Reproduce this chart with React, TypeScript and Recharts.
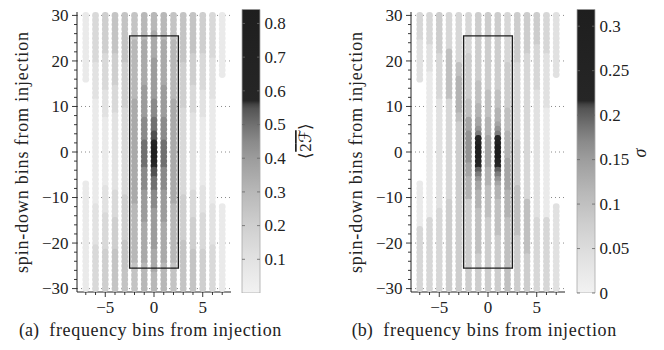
import React from "react";
import { ScatterChart, Scatter, BarChart, Bar, XAxis, YAxis, CartesianGrid, ReferenceArea } from "recharts";

const FONT = "Liberation Serif";
const INK = "#222";

// bins: frequency columns left to right, spin-down rows top (+30) to bottom (-30)
const FREQ_BINS = [-7, -6, -5, -4, -3, -2, -1, 0, 1, 2, 3, 4, 5, 6, 7];
const SPIN_BINS = [
  30, 29, 28, 27, 26, 25, 24, 23, 22, 21, 20, 19, 18, 17, 16, 15, 14, 13, 12, 11, 10,
  9, 8, 7, 6, 5, 4, 3, 2, 1, 0, -1, -2, -3, -4, -5, -6, -7, -8, -9, -10,
  -11, -12, -13, -14, -15, -16, -17, -18, -19, -20, -21, -22, -23, -24, -25, -26, -27, -28, -29, -30,
];
const FREQ_GRID = [-5, 0, 5];
const SPIN_TICKS = [
  -30, -28, -26, -24, -22, -20, -18, -16, -14, -12, -10, -8, -6, -4, -2, 0,
  2, 4, 6, 8, 10, 12, 14, 16, 18, 20, 22, 24, 26, 28, 30,
];
const SPIN_GRID = [-30, -20, -10, 0, 10, 20, 30];

const MEAN_2F_TICKS = [0.1, 0.2, 0.3, 0.4, 0.5, 0.6, 0.7, 0.8];
const SIGMA_TICKS = [0, 0.05, 0.1, 0.15, 0.2, 0.25, 0.3];
const MEAN_2F_MAX = 0.842;
const SIGMA_MAX = 0.319;

// each column: runs of [value, number of spin-down bins] from +30 downwards, null = empty cell
type Run = [number | null, number];

const MEAN_2F_RUNS: Run[][] = [
  [[0.05, 15], [null, 22], [0.05, 24]],
  [[0.15, 11], [0.1, 8], [0.05, 23], [0.1, 9], [0.15, 10]],
  [[0.2, 9], [0.15, 8], [0.1, 6], [0.05, 15], [0.1, 6], [0.15, 8], [0.2, 9]],
  [[0.25, 9], [0.2, 7], [0.15, 6], [0.1, 17], [0.15, 6], [0.2, 7], [0.25, 9]],
  [[0.25, 11], [0.2, 10], [0.15, 19], [0.2, 10], [0.25, 11]],
  [[0.25, 6], [0.3, 13], [0.35, 23], [0.3, 13], [0.25, 6]],
  [[0.3, 6], [0.35, 10], [0.4, 7], [0.45, 5], [0.5, 6], [0.45, 5], [0.4, 7], [0.35, 9], [0.3, 6]],
  [[0.3, 4], [0.35, 6], [0.4, 9], [0.45, 4], [0.5, 3], [0.55, 2], [0.6, 1], [0.7, 1], [0.8, 1],
   [0.8, 1], [0.7, 1], [0.6, 1], [0.55, 2], [0.5, 3], [0.45, 4], [0.4, 9], [0.35, 5], [0.3, 4]],
  [[0.3, 6], [0.35, 10], [0.4, 7], [0.45, 5], [0.5, 6], [0.45, 5], [0.4, 7], [0.35, 9], [0.3, 6]],
  [[0.25, 6], [0.3, 13], [0.35, 23], [0.3, 13], [0.25, 6]],
  [[0.25, 11], [0.2, 10], [0.15, 19], [0.2, 10], [0.25, 11]],
  [[0.25, 9], [0.2, 7], [0.15, 6], [0.1, 17], [0.15, 6], [0.2, 7], [0.25, 9]],
  [[0.2, 9], [0.15, 8], [0.1, 6], [0.05, 15], [0.1, 6], [0.15, 8], [0.2, 9]],
  [[0.15, 10], [0.1, 9], [0.05, 23], [0.1, 9], [0.15, 10]],
  [[0.05, 14], [null, 28], [0.05, 19]],
];

const SIGMA_RUNS: Run[][] = [
  [[0.06, 6], [0.04, 9], [null, 22], [0.02, 10], [0.06, 14]],
  [[0.06, 7], [0.04, 6], [0.02, 32], [0.06, 16]],
  [[0.08, 9], [0.06, 10], [0.04, 24], [0.06, 18]],
  [[0.06, 8], [0.1, 11], [0.06, 22], [0.08, 20]],
  [[0.06, 11], [0.1, 3], [0.12, 8], [0.1, 2], [0.08, 37]],
  [[0.06, 9], [0.08, 10], [0.1, 4], [0.14, 3], [0.16, 7], [0.14, 3], [0.12, 5], [0.08, 20]],
  [[0.08, 15], [0.1, 5], [0.12, 3], [0.14, 2], [0.16, 1], [0.18, 1], [0.22, 1], [0.26, 1], [0.3, 3],
   [0.26, 1], [0.22, 1], [0.2, 1], [0.18, 1], [0.16, 1], [0.14, 2], [0.12, 4], [0.1, 10], [0.08, 8]],
  [[0.08, 17], [0.1, 6], [0.12, 4], [0.14, 7], [0.12, 4], [0.1, 7], [0.08, 16]],
  [[0.08, 17], [0.1, 4], [0.12, 3], [0.14, 1], [0.16, 1], [0.18, 1], [0.22, 1], [0.26, 1], [0.3, 3],
   [0.26, 1], [0.22, 1], [0.2, 1], [0.18, 1], [0.16, 1], [0.14, 1], [0.12, 3], [0.1, 8], [0.08, 12]],
  [[0.06, 11], [0.08, 10], [0.1, 5], [0.12, 6], [0.14, 7], [0.12, 6], [0.1, 16]],
  [[0.08, 11], [0.06, 17], [0.08, 10], [0.1, 11], [0.08, 12]],
  [[0.08, 9], [0.06, 32], [0.1, 12], [0.08, 8]],
  [[0.08, 7], [0.06, 10], [0.04, 28], [0.06, 16]],
  [[0.06, 9], [0.04, 12], [0.02, 24], [0.06, 16]],
  [[0.04, 14], [null, 28], [0.04, 19]],
];

// grey colour map: fraction of colour-bar range -> grey level
const GREY_STOPS: [number, number][] = [
  [0, 242], [0.119, 226], [0.238, 207], [0.356, 184], [0.475, 156], [0.535, 138],
  [0.594, 112], [0.65, 84], [0.665, 66], [0.678, 38], [1, 30],
];

const rgb = (g: number) => {
  const c = Math.round(g);
  return `rgb(${c},${c},${c})`;
};

function grey(t: number) {
  const f = Math.max(0, Math.min(1, t));
  for (let i = 1; i < GREY_STOPS.length; i++) {
    const [t1, g1] = GREY_STOPS[i];
    const [t0, g0] = GREY_STOPS[i - 1];
    if (f <= t1) return rgb(g0 + ((f - t0) / (t1 - t0)) * (g1 - g0));
  }
  return rgb(30);
}

function toCells(runs: Run[][]) {
  const cells: { f: number; s: number; v: number }[] = [];
  runs.forEach((col, i) => {
    let row = 0;
    col.forEach(([v, n]) => {
      for (let k = 0; k < n; k++, row++) {
        if (v !== null) cells.push({ f: FREQ_BINS[i], s: SPIN_BINS[row], v });
      }
    });
  });
  return cells;
}

const MEAN_2F_CELLS = toCells(MEAN_2F_RUNS);
const SIGMA_CELLS = toCells(SIGMA_RUNS);

const fmt = (v: number) => String(v).replace("-", "\u2212");
const textStyle = { fontFamily: FONT };

const FreqTick = ({ x, y, payload }: any) => {
  const major = payload.value % 5 === 0;
  return (
    <g>
      <line x1={x} x2={x} y1={y} y2={y + (major ? 5 : 3)} stroke={INK} strokeWidth={0.9} />
      {major && (
        <text x={x} y={y + 20.5} textAnchor="middle" style={textStyle} fontSize={17} fill={INK}>
          {fmt(payload.value)}
        </text>
      )}
    </g>
  );
};

const SpinTick = ({ x, y, payload }: any) => {
  const major = payload.value % 10 === 0;
  return (
    <g>
      <line x1={x} x2={x - (major ? 5 : 3)} y1={y} y2={y} stroke={INK} strokeWidth={0.9} />
      {major && (
        <text x={x - 8.5} y={y} dy="0.34em" textAnchor="end" style={textStyle} fontSize={17} fill={INK}>
          {fmt(payload.value)}
        </text>
      )}
    </g>
  );
};

const ColorTick = ({ x, y, payload }: any) => (
  <g>
    <line x1={x - 18} x2={x - 15} y1={y} y2={y} stroke="#666" strokeWidth={0.8} />
    <line x1={x - 3} x2={x} y1={y} y2={y} stroke="#666" strokeWidth={0.8} />
    <text x={x + 4.5} y={y} dy="0.34em" textAnchor="start" style={textStyle} fontSize={17} fill={INK}>
      {String(payload.value)}
    </text>
  </g>
);

function Heatmap({ cells, vmax, left }: { cells: any[]; vmax: number; left: number }) {
  return (
    <div style={{ position: "absolute", left, top: 0 }}>
      <ScatterChart width={332} height={350} margin={{ top: 12, right: 101, bottom: 18, left: 37 }}>
        <CartesianGrid
          stroke="#8a8a8a"
          strokeDasharray="1 3"
          verticalValues={FREQ_GRID}
          horizontalValues={SPIN_GRID}
        />
        <XAxis
          type="number"
          dataKey="f"
          domain={[-7.9, 7.9]}
          ticks={FREQ_BINS}
          interval={0}
          allowDataOverflow
          height={40}
          axisLine={{ stroke: INK }}
          tickLine={false}
          tickSize={0}
          tickMargin={0}
          tick={<FreqTick />}
        />
        <YAxis
          type="number"
          dataKey="s"
          domain={[-30.75, 30.75]}
          ticks={SPIN_TICKS}
          interval={0}
          allowDataOverflow
          width={40}
          axisLine={{ stroke: INK }}
          tickLine={false}
          tickSize={0}
          tickMargin={0}
          tick={<SpinTick />}
        />
        <Scatter
          data={cells}
          isAnimationActive={false}
          shape={(p: any) => (
            <circle cx={p.cx} cy={p.cy} r={3.4} fill={grey((p.payload?.v ?? p.v) / vmax)} />
          )}
        />
        <ReferenceArea
          x1={-2.5}
          x2={2.5}
          y1={-25.5}
          y2={25.5}
          fill="none"
          stroke="#1c1c1c"
          strokeWidth={1.4}
          ifOverflow="visible"
          zIndex={900}
        />
      </ScatterChart>
    </div>
  );
}

function ColorBar({ id, vmax, ticks, left }: { id: string; vmax: number; ticks: number[]; left: number }) {
  return (
    <div style={{ position: "absolute", left, top: 0 }}>
      <BarChart
        width={96}
        height={350}
        data={[{ k: "range", v: vmax }]}
        margin={{ top: 9.3, right: 2, bottom: 57, left: 6 }}
        barCategoryGap={0}
      >
        <defs>
          <linearGradient id={id} x1="0" y1="1" x2="0" y2="0">
            {GREY_STOPS.map(([t, g], i) => (
              <stop key={i} offset={t} stopColor={rgb(g)} />
            ))}
          </linearGradient>
        </defs>
        <XAxis dataKey="k" hide />
        <YAxis
          type="number"
          orientation="right"
          domain={[0, vmax]}
          ticks={ticks}
          interval={0}
          allowDataOverflow
          width={70}
          axisLine={false}
          tickLine={false}
          tickSize={0}
          tickMargin={0}
          tick={<ColorTick />}
        />
        <Bar dataKey="v" fill={`url(#${id})`} stroke="#a8a8a8" strokeWidth={0.8} isAnimationActive={false} />
      </BarChart>
    </div>
  );
}

export default function App() {
  return (
    <div style={{ position: "absolute", left: 0, top: 0, width: 664, height: 350, background: "#fff" }}>
      <Heatmap cells={MEAN_2F_CELLS} vmax={MEAN_2F_MAX} left={0} />
      <ColorBar id="cmapA" vmax={MEAN_2F_MAX} ticks={MEAN_2F_TICKS} left={236} />
      <Heatmap cells={SIGMA_CELLS} vmax={SIGMA_MAX} left={334} />
      <ColorBar id="cmapB" vmax={SIGMA_MAX} ticks={SIGMA_TICKS} left={571} />
      <svg
        width={664}
        height={350}
        style={{ position: "absolute", left: 0, top: 0, pointerEvents: "none", fontFamily: FONT }}
        fill={INK}
      >
        <text transform="translate(28 152.5) rotate(-90)" textAnchor="middle" fontSize={18} textLength={241} lengthAdjust="spacing">
          spin-down bins from injection
        </text>
        <text transform="translate(362 152.5) rotate(-90)" textAnchor="middle" fontSize={18} textLength={241} lengthAdjust="spacing">
          spin-down bins from injection
        </text>
        <text x={19} y={336} fontSize={18}>(a)</text>
        <text x={49.3} y={336} fontSize={18} textLength={232} lengthAdjust="spacing">frequency bins from injection</text>
        <text x={351.7} y={336} fontSize={18}>(b)</text>
        <text x={383.3} y={336} fontSize={18} textLength={233} lengthAdjust="spacing">frequency bins from injection</text>
        <text transform="translate(311 141) rotate(-90)" textAnchor="middle" fontSize={17}>
          {"\u27e8"}
          <tspan style={{ textDecoration: "overline" }}>2{"\u2131"}</tspan>
          {"\u27e9"}
        </text>
        <text transform="translate(646 153) rotate(-90)" textAnchor="middle" fontSize={18} fontStyle="italic">
          {"\u03c3"}
        </text>
      </svg>
    </div>
  );
}
